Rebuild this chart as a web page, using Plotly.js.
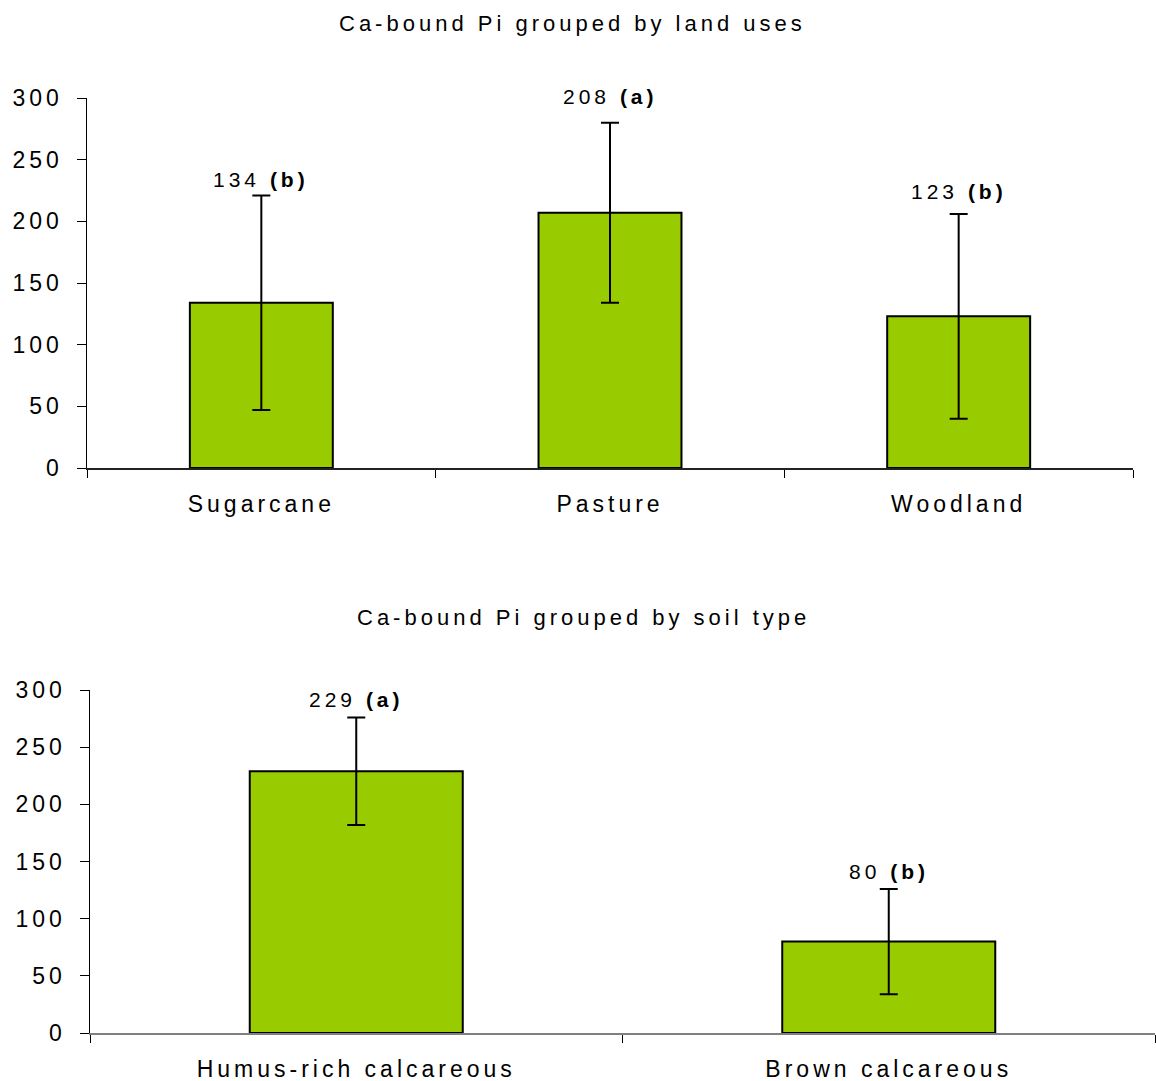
<!DOCTYPE html>
<html>
<head>
<meta charset="utf-8">
<script src="https://cdn.plot.ly/plotly-3.0.1.min.js"></script>
<style>
html,body{margin:0;padding:0;background:#fff;}
#chart{width:1156px;height:1081px;}
#chart svg text{letter-spacing:4px;}
</style>
</head>
<body>
<div id="chart"></div>
<script>
// ---- data ----
const landUses = ["Sugarcane", "Pasture", "Woodland"];
const landValues = [134, 207, 123];
const landErrors = [87, 73, 83];
const landLabelValues = ["134", "208", "123"];
const landLetters = ["(b)", "(a)", "(b)"];

const soilTypes = ["Humus-rich calcareous", "Brown calcareous"];
const soilValues = [229, 80];
const soilErrors = [47, 46];
const soilLabelValues = ["229", "80"];
const soilLetters = ["(a)", "(b)"];

const titleTop = "Ca-bound Pi grouped by land uses";
const titleBottom = "Ca-bound Pi grouped by soil type";
const yTicks = [0, 50, 100, 150, 200, 250, 300];

// ---- styles ----
const FONT = "Liberation Sans, Arial, sans-serif";
const barColor = "#99CC00";
const landShift = [16, 26, 22];
const soilShift = [18, 17];

function barTrace(x, y, err, xa, ya, width) {
  return {
    type: "bar", x: x, y: y, xaxis: xa, yaxis: ya, width: width,
    marker: {color: barColor, line: {color: "#000", width: 2}},
    error_y: {type: "data", array: err, visible: true, color: "#000", thickness: 2, width: 9},
    hoverinfo: "none", showlegend: false
  };
}

const traces = [
  barTrace(landUses, landValues, landErrors, "x", "y", 0.41),
  barTrace(soilTypes, soilValues, soilErrors, "x2", "y2", 0.40)
];

const annotations = [];
landUses.forEach((c, i) => {
  annotations.push({
    xref: "x", yref: "y", x: c, y: landValues[i] + landErrors[i],
    text: landLabelValues[i] + " <b>" + landLetters[i] + "</b>",
    showarrow: false, yanchor: "middle", yshift: landShift[i], xshift: 0,
    font: {family: FONT, size: 21, color: "#000"}
  });
});
soilTypes.forEach((c, i) => {
  annotations.push({
    xref: "x2", yref: "y2", x: c, y: soilValues[i] + soilErrors[i],
    text: soilLabelValues[i] + " <b>" + soilLetters[i] + "</b>",
    showarrow: false, yanchor: "middle", yshift: soilShift[i], xshift: 0,
    font: {family: FONT, size: 21, color: "#000"}
  });
});
annotations.push({xref: "paper", yref: "paper", x: 572 / 1156, y: (1081 - 23) / 1081,
  text: titleTop, showarrow: false, xanchor: "center", yanchor: "middle",
  font: {family: FONT, size: 22, color: "#000"}});
annotations.push({xref: "paper", yref: "paper", x: 583 / 1156, y: (1081 - 617) / 1081,
  text: titleBottom, showarrow: false, xanchor: "center", yanchor: "middle",
  font: {family: FONT, size: 22, color: "#000"}});

function xAxis(domain, anchor, lineColor) {
  return {
    domain: domain, anchor: anchor, type: "category",
    showline: true, linecolor: lineColor, linewidth: 1.5,
    ticks: "outside", tickson: "boundaries", ticklen: 8, tickcolor: "#000", tickwidth: 1,
    showgrid: false, zeroline: false, fixedrange: true,
    tickfont: {family: FONT, size: 23, color: "#000"},
    ticklabelstandoff: 15
  };
}
function yAxis(domain, anchor) {
  return {
    domain: domain, anchor: anchor, range: [0, 300],
    tickvals: yTicks, ticktext: yTicks.map(String),
    showline: true, linecolor: "#000", linewidth: 1.5,
    ticks: "outside", ticklen: 9, tickcolor: "#000", tickwidth: 1,
    showgrid: false, zeroline: false, fixedrange: true,
    tickfont: {family: FONT, size: 23, color: "#000"},
    ticklabelstandoff: 9
  };
}

const layout = {
  width: 1156, height: 1081,
  margin: {l: 0, r: 0, t: 0, b: 0},
  paper_bgcolor: "#fff", plot_bgcolor: "#fff",
  showlegend: false, bargap: 0,
  xaxis: xAxis([87 / 1156, 1133 / 1156], "y", "#222"),
  yaxis: yAxis([(1081 - 468) / 1081, (1081 - 98) / 1081], "x"),
  xaxis2: xAxis([90 / 1156, 1155 / 1156], "y2", "#808080"),
  yaxis2: yAxis([(1081 - 1033) / 1081, (1081 - 690) / 1081], "x2"),
  annotations: annotations
};

Plotly.newPlot("chart", traces, layout, {displayModeBar: false, staticPlot: true});
</script>
</body>
</html>
